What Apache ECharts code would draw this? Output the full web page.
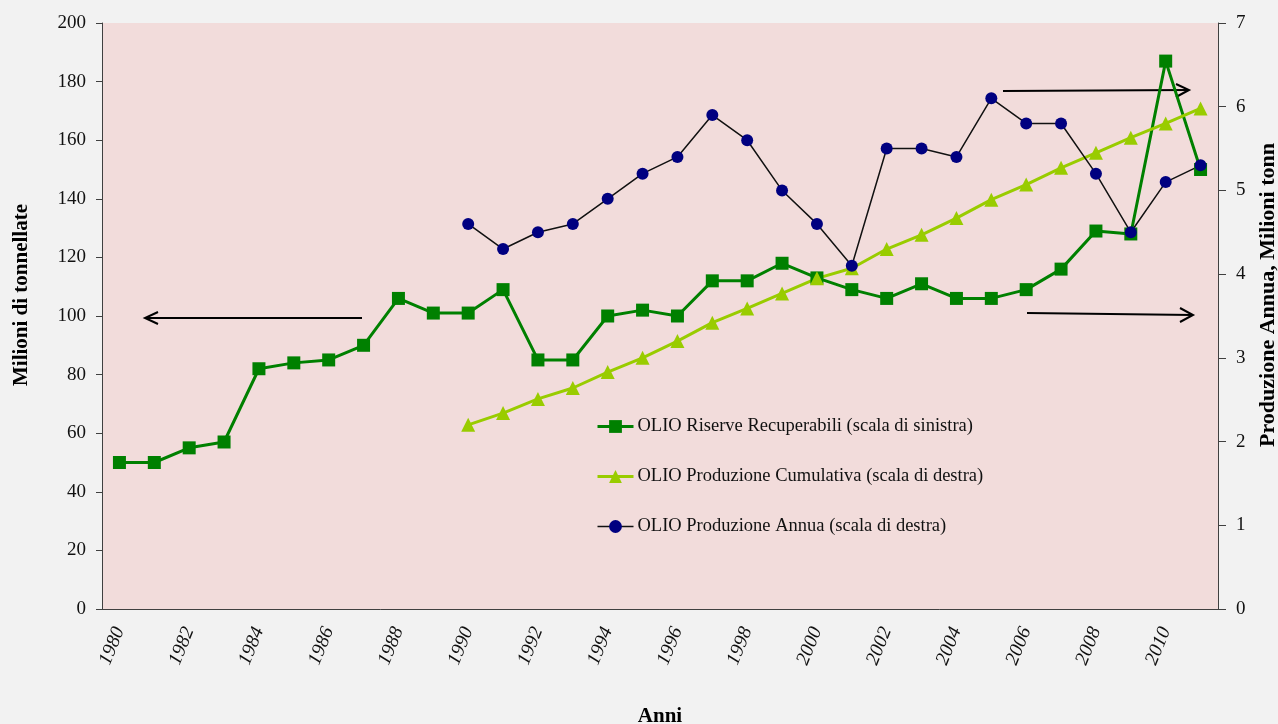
<!DOCTYPE html>
<html>
<head>
<meta charset="utf-8">
<script src="https://cdn.jsdelivr.net/npm/echarts@6/dist/echarts.min.js"></script>
<style>
html,body{margin:0;padding:0;background:#f2f2f2;}
#c{width:1278px;height:724px;}
</style>
</head>
<body>
<div id="c"></div>
<script>
var years = ['1980','1981','1982','1983','1984','1985','1986','1987','1988','1989',
  '1990','1991','1992','1993','1994','1995','1996','1997','1998','1999',
  '2000','2001','2002','2003','2004','2005','2006','2007','2008','2009','2010','2011'];
var riserve = [50,50,55,57,82,84,85,90,106,101,101,109,85,85,100,102,100,112,112,118,
  113,109,106,111,106,106,109,116,129,128,187,150];
var cumulativa = [null,null,null,null,null,null,null,null,null,null,
  2.20,2.34,2.51,2.64,2.83,3.00,3.20,3.42,3.59,3.77,
  3.95,4.07,4.30,4.47,4.67,4.89,5.07,5.27,5.45,5.63,5.80,5.98];
var annua = [null,null,null,null,null,null,null,null,null,null,
  4.6,4.3,4.5,4.6,4.9,5.2,5.4,5.9,5.6,5.0,
  4.6,4.1,5.5,5.5,5.4,6.1,5.8,5.8,5.2,4.5,5.1,5.3];
var names = ['OLIO Riserve Recuperabili (scala di sinistra)',
  'OLIO Produzione Cumulativa (scala di destra)',
  'OLIO Produzione Annua (scala di destra)'];

var serif = 'Liberation Serif, Times New Roman, serif';
var axisCol = '#404040';
var chart = echarts.init(document.getElementById('c'));
chart.setOption({
  animation: false,
  backgroundColor: '#f2f2f2',
  grid: {left: 102, right: 60, top: 23, bottom: 115, show: true, backgroundColor: '#f2dcdb', borderWidth: 0},
  legend: {
    orient: 'vertical', left: 591, top: 412, itemGap: 31, itemWidth: 36, itemHeight: 16,
    data: [
      {name: names[0], lineStyle: {width: 3}},
      {name: names[1], lineStyle: {width: 3}},
      {name: names[2], lineStyle: {width: 1.5}}
    ],
    textStyle: {fontFamily: serif, fontSize: 18.5, color: '#111', padding: [0,0,0,-1]}
  },
  xAxis: {
    type: 'category', data: years, boundaryGap: true,
    axisLine: {lineStyle: {color: axisCol, width: 1}},
    axisTick: {interval: 0, length: 6, lineStyle: {color: axisCol}},
    axisLabel: {interval: 1, rotate: 68, fontFamily: serif, fontStyle: 'italic', fontSize: 19.5, color: '#111', margin: 19},
    splitLine: {show: false}
  },
  yAxis: [{
    type: 'value', min: 0, max: 200, interval: 20, position: 'left',
    axisLine: {show: true, lineStyle: {color: axisCol}},
    axisTick: {show: true, length: 6, lineStyle: {color: axisCol}},
    axisLabel: {fontFamily: serif, fontSize: 19, color: '#111', margin: 16},
    splitLine: {show: false}
  }, {
    type: 'value', min: 0, max: 7, interval: 1, position: 'right',
    axisLine: {show: true, lineStyle: {color: axisCol}},
    axisTick: {show: true, length: 8, lineStyle: {color: axisCol}},
    axisLabel: {fontFamily: serif, fontSize: 19, color: '#111', margin: 18},
    splitLine: {show: false}
  }],
  series: [{
    name: names[0], type: 'line', yAxisIndex: 0, data: riserve,
    symbol: 'rect', symbolSize: 13, color: '#008000',
    lineStyle: {color: '#008000', width: 3}, itemStyle: {color: '#008000'}
  }, {
    name: names[1], type: 'line', yAxisIndex: 1, data: cumulativa,
    symbol: 'triangle', symbolSize: 14, color: '#99cc00',
    lineStyle: {color: '#99cc00', width: 3}, itemStyle: {color: '#99cc00'}
  }, {
    name: names[2], type: 'line', yAxisIndex: 1, data: annua,
    symbol: 'circle', symbolSize: 12, color: '#000080',
    lineStyle: {color: '#111', width: 1.5}, itemStyle: {color: '#000080'}
  }],
  graphic: [
    {type: 'text', x: 22, y: 295, rotation: Math.PI/2, style: {text: 'Milioni di tonnellate', font: 'bold 21px ' + serif, fill: '#000', align: 'center', verticalAlign: 'middle'}},
    {type: 'text', x: 1268, y: 295, rotation: Math.PI/2, style: {text: 'Produzione Annua, Milioni tonn', font: 'bold 22px ' + serif, fill: '#000', align: 'center', verticalAlign: 'middle'}},
    {type: 'text', x: 660, y: 717, style: {text: 'Anni', font: 'bold 21px ' + serif, fill: '#000', align: 'center', verticalAlign: 'middle'}},
    {type: 'polyline', shape: {points: [[362,318],[145,318]]}, style: {stroke: '#000', lineWidth: 2, fill: null}},
    {type: 'polyline', shape: {points: [[158,312],[145,318],[158,324]]}, style: {stroke: '#000', lineWidth: 2, fill: null}},
    {type: 'polyline', shape: {points: [[1003,91],[1189,90]]}, style: {stroke: '#000', lineWidth: 2, fill: null}},
    {type: 'polyline', shape: {points: [[1176,84],[1189,90],[1176,97]]}, style: {stroke: '#000', lineWidth: 2, fill: null}},
    {type: 'polyline', shape: {points: [[1027,313],[1193,315]]}, style: {stroke: '#000', lineWidth: 2, fill: null}},
    {type: 'polyline', shape: {points: [[1180,308],[1193,315],[1180,322]]}, style: {stroke: '#000', lineWidth: 2, fill: null}}
  ]
});
</script>
</body>
</html>
